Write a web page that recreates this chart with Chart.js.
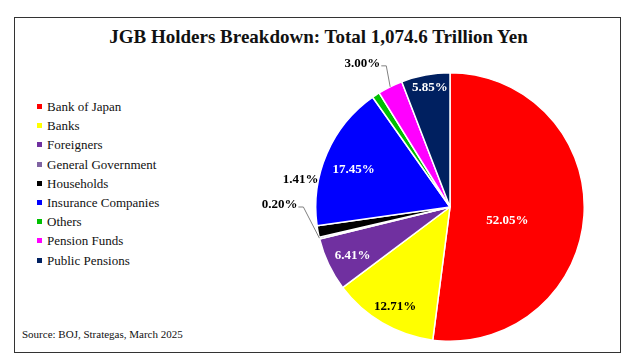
<!DOCTYPE html>
<html>
<head>
<meta charset="utf-8">
<script src="https://cdn.jsdelivr.net/npm/chart.js@4.4.1/dist/chart.umd.min.js"></script>
<style>
  body { margin: 0; background: #fff; }
  #wrap { position: relative; width: 637px; height: 361px; font-family: "Liberation Serif", "DejaVu Serif", serif; }
  #frame { position: absolute; left: 14px; top: 17px; width: 605px; height: 334px; border: 1px solid #333; }
  #title { position: absolute; left: 0; width: 637px; top: 26px; text-align: center; font: bold 19px "Liberation Serif", serif; color: #111; }
  #legend { position: absolute; left: 37px; top: 97px; margin: 0; padding: 0; list-style: none; font: 13px "Liberation Serif", serif; color: #111; }
  #legend li { height: 19.2px; line-height: 19.2px; white-space: nowrap; }
  #legend span { display: inline-block; width: 5px; height: 5px; margin-right: 5px; vertical-align: 2px; }
  #source { position: absolute; left: 22px; top: 328px; font: 11px "Liberation Serif", serif; color: #111; }
  canvas { position: absolute; left: 0; top: 0; }
</style>
</head>
<body>
<div id="wrap">
  <div id="frame"></div>
  <div id="title">JGB Holders Breakdown: Total 1,074.6 Trillion Yen</div>
  <ul id="legend"></ul>
  <div id="source">Source: BOJ, Strategas, March 2025</div>
  <canvas id="chart" width="637" height="361"></canvas>
</div>
<script>
const holders = ["Bank of Japan", "Banks", "Foreigners", "General Government", "Households",
  "Insurance Companies", "Others", "Pension Funds", "Public Pensions"];
const shares = [52.05, 12.71, 6.41, 0.20, 1.41, 17.45, 0.92, 3.00, 5.85];
const colors = ["#FF0000", "#FFFF00", "#7030A0", "#8064A2", "#000000",
  "#0000FF", "#00C000", "#FF00FF", "#002060"];

// label placement: [radius fraction, angle shift in degrees, text colour, leader line]
const labelPlace = [
  [0.44, 10.1, "#fff", false],
  [0.85, -1.5, "#000", false],
  [0.81, -1.1, "#fff", false],
  [1.27, 14.1, "#000", true],
  [1.13, 20.8, "#000", false],
  [0.77, -2.4, "#fff", false],
  null,
  [1.25, -5, "#000", true],
  [0.90, 1, "#fff", false]
];

const legend = document.getElementById("legend");
holders.forEach((h, i) => {
  const li = document.createElement("li");
  li.innerHTML = '<span style="background:' + colors[i] + '"></span>' + h;
  legend.appendChild(li);
});

const sliceLabels = {
  id: "sliceLabels",
  afterDatasetsDraw(chart) {
    const ctx = chart.ctx;
    const arcs = chart.getDatasetMeta(0).data;
    ctx.save();
    ctx.font = "bold 13px 'Liberation Serif', serif";
    ctx.textAlign = "center";
    ctx.textBaseline = "middle";
    arcs.forEach((arc, i) => {
      const p = labelPlace[i];
      if (!p) return;
      const { x, y, startAngle, endAngle, outerRadius } = arc.getProps(["x", "y", "startAngle", "endAngle", "outerRadius"], true);
      const mid = (startAngle + endAngle) / 2;
      const a = mid + p[1] * Math.PI / 180;
      const lx = x + Math.cos(a) * outerRadius * p[0];
      const ly = y + Math.sin(a) * outerRadius * p[0];
      const text = shares[i].toFixed(2) + "%";
      if (p[3]) {
        const w = ctx.measureText(text).width;
        ctx.strokeStyle = "#808080";
        ctx.lineWidth = 1;
        ctx.beginPath();
        ctx.moveTo(lx + w / 2 + 1, ly + 2);
        ctx.lineTo(lx + w / 2 + 6, ly + 2);
        ctx.lineTo(x + Math.cos(mid) * outerRadius, y + Math.sin(mid) * outerRadius);
        ctx.stroke();
      }
      ctx.fillStyle = p[2];
      ctx.fillText(text, lx, ly);
    });
    ctx.restore();
  }
};

new Chart(document.getElementById("chart"), {
  type: "pie",
  data: {
    labels: holders,
    datasets: [{
      data: shares,
      backgroundColor: colors,
      borderColor: "#fff",
      borderWidth: 1.5
    }]
  },
  options: {
    responsive: false,
    animation: false,
    devicePixelRatio: 1,
    layout: { padding: { left: 315, right: 52, top: 72, bottom: 19 } },
    plugins: {
      legend: { display: false },
      tooltip: { enabled: false }
    }
  },
  plugins: [sliceLabels]
});
</script>
</body>
</html>
